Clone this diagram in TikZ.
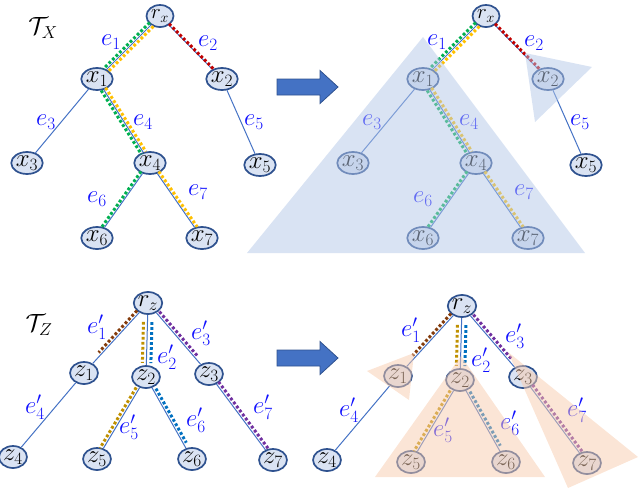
\documentclass[tikz,border=0pt]{standalone}
\usetikzlibrary{calc,shapes.geometric}
\definecolor{edgeblue}{HTML}{4472C4}
\definecolor{nodefill}{HTML}{DAE3F3}
\definecolor{nodeborder}{HTML}{2F528F}
\definecolor{dgreen}{HTML}{00B050}
\definecolor{dorange}{HTML}{FFC000}
\definecolor{dred}{HTML}{C00000}
\definecolor{dbrown}{HTML}{843C0C}
\definecolor{dgold}{HTML}{BF9000}
\definecolor{dblue}{HTML}{0070C0}
\definecolor{dpurple}{HTML}{7030A0}
\definecolor{triblue}{HTML}{B4C7E7}
\definecolor{tripeach}{HTML}{F8CBAD}
\definecolor{lblue}{HTML}{1010FF}
\tikzset{
 tnode/.style={ellipse, draw=nodeborder, fill=nodefill, line width=1.7pt, minimum width=27pt, minimum height=22pt, inner sep=0pt, font=\fontsize{23}{23}\selectfont},
 tedge/.style={edgeblue, line width=1pt},
 dotline/.style={line width=3pt, dash pattern=on 2.8pt off 2.2pt},
 elabel/.style={text=lblue, font=\fontsize{26}{26}\selectfont, inner sep=0pt},
 tlabel/.style={text=black, font=\fontsize{27}{27}\selectfont, inner sep=0pt},
 bigarrow/.style={fill=edgeblue, draw=nodeborder, line width=0.8pt},
 bluetri/.style={fill=triblue, opacity=0.5},
 peachtri/.style={fill=tripeach, opacity=0.5},
}
% #1 from, #2 to, #3 dist from start, #4 dist from end, #5 signed offset, #6 colour
\newcommand\dl[6]{\draw[dotline,#6] ($($(#1)!#3!(#2)$)!#5!90:(#2)$) -- ($($(#2)!#4!(#1)$)!#5!-90:(#1)$);}
\newcommand\treeX[1]{%
 \node[tnode, font=\fontsize{22}{22}\selectfont] (#1rx) at (160,16) {$r_x$};
 \node[tnode] (#1x1) at (97,79) {$x_1$};
 \node[tnode] (#1x2) at (222,79) {$x_2$};
 \node[tnode] (#1x3) at (27,163) {$x_3$};
 \node[tnode] (#1x4) at (150,163) {$x_4$};
 \node[tnode] (#1x5) at (260,165) {$x_5$};
 \node[tnode] (#1x6) at (97,238) {$x_6$};
 \node[tnode] (#1x7) at (202,238) {$x_7$};
 \draw[tedge] (#1rx) -- (#1x1);
 \draw[tedge] (#1rx) -- (#1x2);
 \draw[tedge] (#1x1) -- (#1x3);
 \draw[tedge] (#1x1) -- (#1x4);
 \draw[tedge] (#1x2) -- (#1x5);
 \draw[tedge] (#1x4) -- (#1x6);
 \draw[tedge] (#1x4) -- (#1x7);
 \dl{#1rx}{#1x1}{12pt}{12pt}{-2.6pt}{dgreen}
 \dl{#1rx}{#1x1}{12pt}{12pt}{2.6pt}{dorange}
 \dl{#1rx}{#1x2}{12pt}{12pt}{1pt}{dred}
 \dl{#1x1}{#1x4}{12pt}{12pt}{-2.6pt}{dgreen}
 \dl{#1x1}{#1x4}{12pt}{12pt}{2.6pt}{dorange}
 \dl{#1x4}{#1x6}{12pt}{12pt}{-2.4pt}{dgreen}
 \dl{#1x4}{#1x7}{12pt}{12pt}{2.4pt}{dorange}
 \node[elabel] (#1e1) at (111,42) {$e_1$};
 \node[elabel] (#1e2) at (208,43) {$e_2$};
 \node[elabel] (#1e3) at (46,122) {$e_3$};
 \node[elabel] (#1e4) at (143,122) {$e_4$};
 \node[elabel] (#1e5) at (254,122) {$e_5$};
 \node[elabel] (#1e6) at (97,199) {$e_6$};
 \node[elabel] (#1e7) at (198,192) {$e_7$};
}
\newcommand\treeZ[1]{%
 \node[tnode] (#1rz) at (148,303) {$r_z$};
 \node[tnode] (#1z1) at (84,373) {$z_1$};
 \node[tnode] (#1z2) at (146,377) {$z_2$};
 \node[tnode] (#1z3) at (209,374) {$z_3$};
 \node[tnode] (#1z4) at (13,457) {$z_4$};
 \node[tnode] (#1z5) at (97,459) {$z_5$};
 \node[tnode] (#1z6) at (192,459) {$z_6$};
 \node[tnode] (#1z7) at (273,460) {$z_7$};
 \draw[tedge] (#1rz) -- (#1z1);
 \draw[tedge] (#1rz) -- (#1z2);
 \draw[tedge] (#1rz) -- (#1z3);
 \draw[tedge] (#1z1) -- (#1z4);
 \draw[tedge] (#1z2) -- (#1z5);
 \draw[tedge] (#1z2) -- (#1z6);
 \draw[tedge] (#1z3) -- (#1z7);
 \dl{#1rz}{#1z1}{13pt}{25pt}{-3pt}{dbrown}
 \dl{#1rz}{#1z2}{19pt}{14pt}{-4pt}{dgold}
 \dl{#1rz}{#1z2}{19pt}{14pt}{4.5pt}{dblue}
 \dl{#1rz}{#1z3}{14pt}{20pt}{3pt}{dpurple}
 \dl{#1z3}{#1z7}{12pt}{12pt}{3pt}{dpurple}
 \dl{#1z2}{#1z5}{14pt}{11pt}{-3pt}{dgold}
 \dl{#1z2}{#1z6}{15pt}{17pt}{3pt}{dblue}
 \node[elabel] (#1f1) at (97,327) {$e'_1$};
 \node[elabel] (#1f2) at (167,357) {$e'_2$};
 \node[elabel] (#1f3) at (201,333) {$e'_3$};
 \node[elabel] (#1f4) at (35,407) {$e'_4$};
 \node[elabel] (#1f5) at (129,427) {$e'_5$};
 \node[elabel] (#1f6) at (196,420) {$e'_6$};
 \node[elabel] (#1f7) at (263,407) {$e'_7$};
}
\begin{document}
\begin{tikzpicture}[x=1pt,y=-1pt]
\useasboundingbox (0,0) rectangle (640,490);
\node[tlabel] (TX) at (43,28) {$\mathcal{T}_X$};
\node[tlabel] (TZ) at (39,325) {$\mathcal{T}_Z$};
\treeX{L}
\begin{scope}[shift={(326,0)}]
 \treeX{R}
\end{scope}
\treeZ{L}
\begin{scope}[shift={(314,3)}]
 \treeZ{R}
\end{scope}
% arrows
\draw[bigarrow] (277,79) -- (320,79) -- (320,70.5) -- (338,87) -- (320,103.5) -- (320,95) -- (277,95) -- cycle;
\draw[bigarrow] (277,350) -- (320,350) -- (320,341.5) -- (338,358) -- (320,374.5) -- (320,366) -- (277,366) -- cycle;
% highlighted subtrees
\fill[bluetri] (247,253) -- (423,37) -- (585,253) -- cycle;
\fill[bluetri] (525,53) -- (592,67) -- (535,122) -- cycle;
\fill[peachtri] (367,371) -- (414,353) -- (409,400) -- cycle;
\fill[peachtri] (375,477) -- (461,356) -- (545,477) -- cycle;
\fill[peachtri] (508,352) -- (638,457) -- (568,488) -- cycle;
\end{tikzpicture}
\end{document}
